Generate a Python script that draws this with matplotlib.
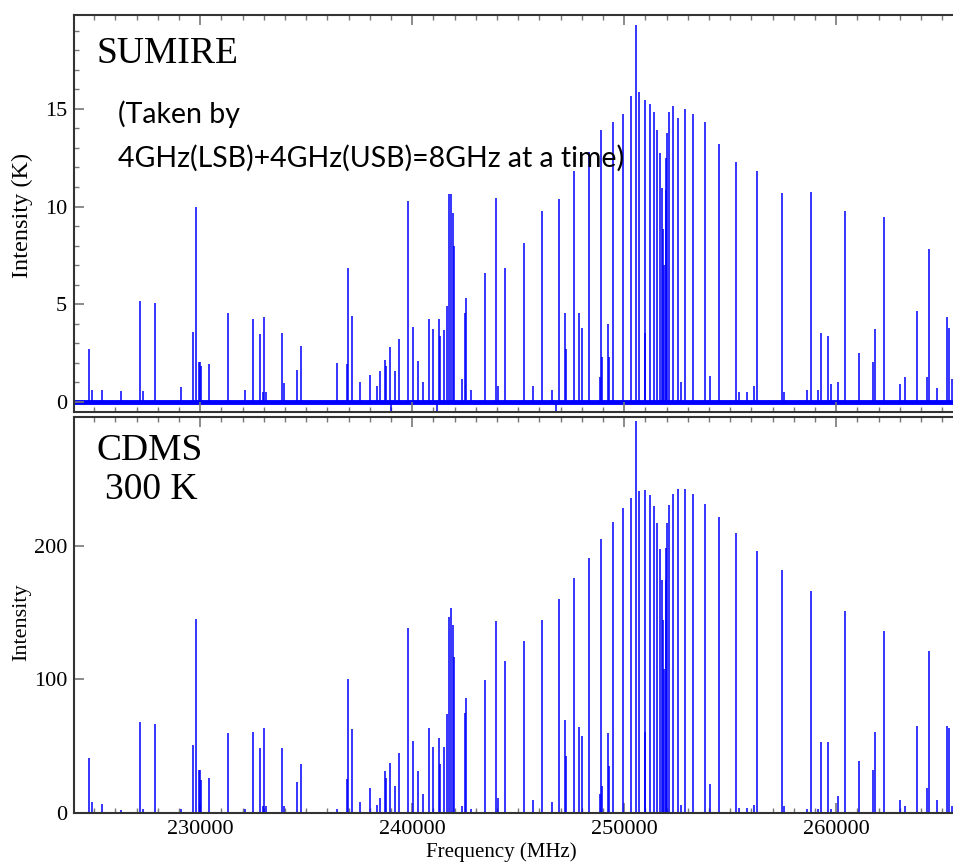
import matplotlib
matplotlib.use('Agg')
import matplotlib.pyplot as plt
from matplotlib.ticker import MultipleLocator, FormatStrFormatter

plt.rcParams['font.family'] = ['Liberation Serif', 'DejaVu Serif']

# line frequencies (MHz), SUMIRE intensity (K), CDMS intensity
freq = [224764, 224890, 225380, 226260, 227156, 227290, 227877, 229104, 229656, 229797,
        229930, 229985, 230047, 230410, 231336, 232123, 232486, 232830, 232950, 233005,
        233100, 233854, 233976, 234575, 234750, 236448, 236910, 236995, 237175, 237547,
        238019, 238320, 238490, 238712, 238760, 238948, 239010, 239198, 239396, 239797,
        240033, 240297, 240519, 240793, 241005, 241170, 241259, 241290, 241495, 241641,
        241745, 241840, 241925, 241960, 242344, 242500, 242547, 242783, 243458, 243953,
        244033, 244373, 245269, 245684, 246123, 246573, 246780, 246920, 247208, 247264,
        247651, 247877, 248019, 248325, 248870, 248906, 248950, 249231, 249270, 249458,
        249929, 250330, 250552, 250684, 250967, 250995, 251212, 251401, 251571, 251684,
        251778, 251854, 251900, 251958, 251995, 252028, 252123, 252288, 252533, 252700,
        252845, 253264, 253797, 254057, 254467, 255283, 255425, 255787, 256118, 256274,
        257453, 257520, 258616, 258821, 259152, 259292, 259623, 259750, 260090, 260410,
        261094, 261731, 261840, 262264, 263019, 263255, 263811, 264300, 264354, 264764,
        265226, 265306, 265480]
sumire = [2.7, 0.6, 0.6, 0.55, 5.15, 0.55, 5.05, 0.75, 3.6, 10.0,
          2.05, 2.05, 1.85, 1.95, 4.55, 0.6, 4.23, 3.5, 0.5, 4.33,
          0.5, 3.53, 0.95, 1.62, 2.85, 2.0, 1.94, 6.87, 4.4, 1.0,
          1.38, 0.8, 1.58, 2.15, 1.85, 2.83, -0.45, 1.58, 3.22, 10.27,
          3.85, 2.1, 1.0, 4.23, 3.72, -0.55, 4.23, 3.4, 3.68, 4.91,
          10.63, 10.66, 9.66, 8.0, 1.18, 4.54, 5.3, 0.6, 6.59, 10.44,
          0.8, 6.84, 8.12, 0.8, 9.79, 0.6, -0.45, 10.37, 4.54, 2.7,
          11.82, 4.54, 3.8, 12.81, 1.3, 13.92, 2.3, 3.99, 2.3, 14.35,
          14.72, 15.66, 19.3, 15.87, 15.46, 3.55, 15.27, 14.86, 13.92, 12.76,
          10.94, 8.84, 7.0, 10.85, 12.5, 13.78, 14.86, 15.15, 14.52, 1.0,
          15.01, 14.72, 14.31, 1.35, 13.2, 12.27, 0.5, 0.5, 0.8, 11.81,
          10.68, 0.5, 0.6, 10.76, 0.6, 3.55, 3.38, 0.9, 1.0, 9.76,
          2.49, 2.06, 3.72, 9.47, 0.9, 1.3, 4.64, 1.3, 7.81, 0.7,
          4.33, 3.8, 1.2]
cdms = [41, 8, 7, 2, 68, 3, 66.5, 3, 51, 145,
        32, 32, 25, 26, 60, 3, 61, 48.5, 5, 63.5,
        5, 49, 5, 23, 36.5, 3, 25.8, 100.5, 63, 8,
        19, 6, 11, 31.3, 26, 37.8, 0, 20, 45.3, 138.5,
        53.8, 31.3, 14, 63.5, 49.5, 0, 56, 37, 49.5, 74.5,
        147, 153.8, 141, 117, 5, 75, 86.5, 3, 99.5, 143.6,
        11, 113.8, 128.8, 10, 144.3, 8, 0, 160, 69.8, 43,
        175.8, 64.5, 58, 191, 14, 205.3, 20, 59.8, 35, 218,
        228.5, 236.3, 293.3, 241, 241.8, 61, 238, 230, 217, 198,
        174.5, 144.5, 108, 174.5, 198.8, 217, 230.8, 239, 243, 6,
        243, 238.8, 231.6, 21.5, 221.8, 210, 4, 4, 6, 196.3,
        181.8, 5, 3, 166.5, 3, 53.5, 53.3, 3, 13, 151.3,
        39, 32, 61, 136, 10, 5, 65, 19, 121.3, 10,
        65.5, 63.5, 5]

blue = '#0000ff'

fig = plt.figure(figsize=(9.54, 8.63), dpi=100)
ax1 = fig.add_axes([74/954, 1-412/863, 882/954, 397/863])
ax2 = fig.add_axes([74/954, 1-813/863, 882/954, 396/863])

# observed spectrum: noisy baseline + lines
ax1.axhline(0, color=blue, lw=3.5, zorder=1)
ax1.vlines(freq, 0, sumire, color=blue, lw=1.1, zorder=2)
ax2.vlines(freq, 0, cdms, color=blue, lw=1.1, zorder=2)

ax1.set_ylim(-0.51, 19.8)
ax2.set_ylim(0, 296.6)
for ax in (ax1, ax2):
    ax.set_xlim(224050, 265650)
    ax.xaxis.set_major_locator(MultipleLocator(10000))
    ax.xaxis.set_minor_locator(MultipleLocator(1000))
    ax.xaxis.set_major_formatter(FormatStrFormatter('%d'))
    ax.tick_params(which='both', direction='in', top=True, right=False,
                   color='#777777', labelsize=16, pad=5)
    ax.tick_params(which='major', length=7, width=1.2)
    ax.tick_params(which='minor', length=3.5, width=1.0)
    for s in ax.spines.values():
        s.set_linewidth(1.5)
        s.set_color('#333333')
    ax.spines['right'].set_visible(False)

ax1.yaxis.set_major_locator(MultipleLocator(5))
ax1.yaxis.set_minor_locator(MultipleLocator(1))
ax1.tick_params(labelbottom=False)
ax2.yaxis.set_major_locator(MultipleLocator(100))

fig.text(22/954, 1-215/863, 'Intensity (K)', rotation=90, ha='center', va='center',
         fontsize=17.5)
fig.text(22/954, 1-622/863, 'Intensity', rotation=90, ha='center', va='center',
         fontsize=16)
fig.text(501/954, 1-852/863, 'Frequency (MHz)', ha='center', va='center', fontsize=15)

fig.text(97/954, 1-63/863, 'SUMIRE', fontsize=27, va='baseline')
fig.text(97/954, 1-460/863, 'CDMS', fontsize=27, va='baseline')
fig.text(105/954, 1-499/863, '300 K', fontsize=27, va='baseline')
fig.text(118/954, 1-123/863, '(Taken by', family='Lato', fontsize=20.5, va='baseline')
fig.text(118/954, 1-167/863, '4GHz(LSB)+4GHz(USB)=8GHz at a time)', family='Lato',
         fontsize=20.5, va='baseline')

fig.savefig('out.png', dpi=100)
